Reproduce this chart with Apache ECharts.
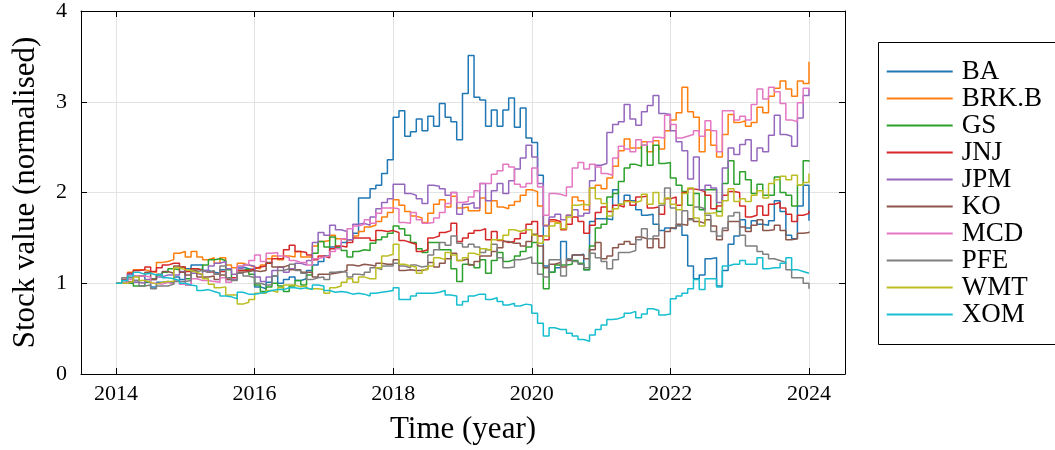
<!DOCTYPE html>
<html>
<head>
<meta charset="utf-8">
<script src="https://cdn.jsdelivr.net/npm/echarts@6/dist/echarts.min.js"></script>
<style>
html,body{margin:0;padding:0;background:#ffffff;}
#chart{width:1055px;height:450px;}
</style>
</head>
<body>
<div id="chart"></div>
<script>
// Monthly normalised values, Jan 2014 ... Jan 2024 (121 points)
const startYear = 2014;
const seriesNames = ["BA", "BRK.B", "GS", "JNJ", "JPM", "KO", "MCD", "PFE", "WMT", "XOM"];
const yearTicks = [2014, 2016, 2018, 2020, 2022, 2024];
const valueTicks = [0, 1, 2, 3, 4];

const BA = [
 1.00,1.03,1.00,1.03,1.08,1.01,0.96,1.01,1.02,1.00,1.07,1.04,
 1.16,1.20,1.20,1.14,1.12,1.11,1.15,1.04,1.04,1.18,1.16,1.15,
 0.96,0.94,1.01,1.08,1.00,1.04,1.07,1.03,1.05,1.14,1.20,1.24,
 1.30,1.40,1.40,1.45,1.48,1.55,1.94,1.94,2.04,2.08,2.21,2.36,
 2.83,2.90,2.62,2.67,2.81,2.68,2.84,2.73,2.98,2.83,2.78,2.58,
 3.09,3.51,3.05,3.02,2.73,2.91,2.73,2.91,3.04,2.72,2.93,2.60,
 2.55,2.19,1.19,1.12,1.17,1.46,1.26,1.31,1.32,1.15,1.68,1.71,
 1.71,1.70,2.03,1.87,1.97,1.91,1.81,1.75,1.76,1.65,1.58,1.61,
 1.60,1.64,1.53,1.19,1.05,1.09,1.27,1.28,0.97,1.14,1.43,1.52,
 1.70,1.61,1.69,1.65,1.64,1.69,1.91,1.79,1.53,1.49,1.85,2.08,
 1.69];
const BRKB = [
 1.00,1.04,1.12,1.15,1.15,1.13,1.12,1.23,1.24,1.26,1.33,1.35,
 1.29,1.35,1.29,1.26,1.28,1.22,1.28,1.20,1.17,1.22,1.20,1.18,
 1.16,1.20,1.27,1.30,1.26,1.30,1.29,1.35,1.29,1.29,1.41,1.46,
 1.47,1.53,1.49,1.48,1.48,1.52,1.57,1.62,1.64,1.68,1.73,1.78,
 1.92,1.86,1.79,1.74,1.72,1.67,1.77,1.87,1.92,1.84,1.96,1.83,
 1.84,1.80,1.80,1.94,1.77,1.91,1.84,1.82,1.86,1.90,1.97,2.03,
 2.01,1.85,1.64,1.68,1.66,1.60,1.75,1.95,1.91,1.81,2.05,2.08,
 2.04,2.16,2.29,2.46,2.59,2.49,2.49,2.56,2.45,2.57,2.48,2.68,
 2.80,2.88,3.16,2.89,2.83,2.45,2.69,2.52,2.39,2.64,2.86,2.77,
 2.79,2.73,2.77,2.94,2.88,3.06,3.15,3.23,3.14,3.06,3.23,3.20,
 3.44];
const GS = [
 1.00,1.01,1.00,0.97,0.97,1.02,1.05,1.09,1.12,1.16,1.15,1.18,
 1.05,1.16,1.15,1.20,1.26,1.27,1.25,1.15,1.06,1.14,1.16,1.10,
 0.98,0.91,0.96,1.00,0.97,0.91,0.97,1.03,0.98,1.09,1.33,1.46,
 1.40,1.51,1.40,1.36,1.29,1.35,1.37,1.36,1.44,1.48,1.51,1.55,
 1.63,1.60,1.53,1.45,1.38,1.34,1.45,1.45,1.37,1.37,1.16,1.02,
 1.21,1.20,1.17,1.26,1.11,1.25,1.34,1.24,1.26,1.30,1.35,1.40,
 1.45,1.22,0.94,1.12,1.20,1.20,1.21,1.25,1.22,1.15,1.41,1.61,
 1.65,1.95,1.99,2.12,2.27,2.31,2.29,2.52,2.30,2.52,2.32,2.33,
 2.16,2.08,2.01,1.86,1.99,1.81,2.03,2.03,1.79,2.10,2.35,2.09,
 2.23,2.14,1.99,2.09,1.97,1.97,2.17,2.00,1.97,1.85,2.08,2.35,
 2.34];
const JNJ = [
 1.00,1.04,1.11,1.14,1.15,1.18,1.13,1.17,1.20,1.22,1.22,1.18,
 1.13,1.16,1.14,1.12,1.13,1.10,1.13,1.06,1.06,1.14,1.14,1.16,
 1.18,1.19,1.22,1.27,1.27,1.37,1.42,1.35,1.34,1.31,1.26,1.30,
 1.28,1.38,1.41,1.40,1.45,1.50,1.50,1.50,1.47,1.58,1.57,1.58,
 1.56,1.47,1.45,1.43,1.35,1.37,1.50,1.52,1.56,1.58,1.66,1.46,
 1.50,1.55,1.58,1.60,1.48,1.57,1.47,1.45,1.46,1.49,1.55,1.65,
 1.68,1.52,1.48,1.70,1.68,1.59,1.65,1.73,1.68,1.55,1.64,1.78,
 1.84,1.79,1.86,1.84,1.91,1.86,1.95,1.96,1.83,1.84,1.76,1.93,
 1.95,1.86,2.00,2.04,2.03,2.01,1.97,1.82,1.85,1.97,2.01,2.00,
 1.85,1.73,1.75,1.85,1.75,1.87,1.89,1.83,1.76,1.68,1.75,1.77,
 1.80];
const JPM = [
 1.00,1.03,1.10,1.01,1.00,1.04,1.04,1.07,1.09,1.09,1.09,1.13,
 0.98,1.11,1.09,1.14,1.19,1.22,1.24,1.16,1.10,1.16,1.20,1.19,
 1.07,1.02,1.07,1.14,1.18,1.12,1.16,1.22,1.20,1.25,1.45,1.56,
 1.53,1.64,1.59,1.57,1.48,1.65,1.66,1.64,1.73,1.82,1.89,1.93,
 2.09,2.09,1.99,1.97,1.93,1.88,2.08,2.07,2.04,1.97,2.00,1.76,
 1.87,1.89,1.83,2.10,1.91,2.02,2.10,1.99,2.13,2.26,2.38,2.52,
 2.39,2.10,1.63,1.73,1.76,1.70,1.75,1.81,1.74,1.77,2.13,2.30,
 2.32,2.66,2.75,2.78,2.97,2.81,2.74,2.89,2.96,3.07,2.87,2.86,
 2.68,2.56,2.46,2.15,2.39,2.03,2.08,2.05,1.89,2.27,2.49,2.42,
 2.53,2.58,2.35,2.49,2.45,2.63,2.85,2.64,2.62,2.51,2.82,3.07,
 3.14];
const KO = [
 1.00,1.01,1.02,1.08,1.08,1.12,1.04,1.10,1.13,1.11,1.19,1.12,
 1.09,1.14,1.07,1.07,1.08,1.04,1.09,1.04,1.06,1.12,1.13,1.14,
 1.13,1.14,1.23,1.18,1.18,1.20,1.15,1.15,1.12,1.12,1.07,1.10,
 1.10,1.11,1.12,1.14,1.20,1.19,1.21,1.20,1.19,1.22,1.21,1.21,
 1.26,1.14,1.15,1.14,1.14,1.16,1.23,1.18,1.22,1.27,1.33,1.25,
 1.27,1.20,1.24,1.30,1.30,1.35,1.39,1.46,1.44,1.44,1.41,1.46,
 1.54,1.41,1.17,1.21,1.23,1.18,1.25,1.31,1.31,1.27,1.37,1.45,
 1.27,1.30,1.39,1.43,1.46,1.43,1.51,1.49,1.39,1.49,1.39,1.57,
 1.61,1.65,1.64,1.71,1.68,1.66,1.70,1.63,1.48,1.58,1.68,1.68,
 1.62,1.57,1.64,1.70,1.58,1.59,1.64,1.58,1.48,1.49,1.55,1.56,
 1.57];
const MCD = [
 1.00,1.01,1.04,1.08,1.08,1.07,1.00,0.99,1.01,0.99,1.03,0.99,
 0.98,1.05,1.03,1.03,1.02,1.01,1.06,1.01,1.05,1.19,1.21,1.25,
 1.31,1.24,1.33,1.34,1.30,1.28,1.25,1.23,1.23,1.20,1.27,1.29,
 1.30,1.35,1.38,1.49,1.60,1.63,1.65,1.70,1.66,1.77,1.83,1.83,
 1.82,1.67,1.66,1.78,1.70,1.66,1.67,1.72,1.78,1.88,2.00,1.89,
 1.90,1.95,2.02,2.10,2.10,2.20,2.24,2.31,2.28,2.09,2.06,2.10,
 2.27,2.06,1.75,1.99,1.98,1.96,2.06,2.27,2.33,2.26,2.31,2.28,
 2.21,2.19,2.38,2.51,2.48,2.45,2.58,2.52,2.56,2.61,2.60,2.85,
 2.75,2.60,2.62,2.64,2.68,2.62,2.79,2.68,2.45,2.90,2.90,2.80,
 2.84,2.80,2.97,3.14,3.03,3.16,3.11,2.98,2.80,2.78,2.99,3.15,
 3.11];
const PFE = [
 1.00,1.06,1.06,1.03,0.97,0.98,0.94,0.97,0.97,0.99,1.02,1.02,
 1.03,1.13,1.14,1.12,1.14,1.10,1.19,1.06,1.03,1.11,1.08,1.06,
 1.00,0.98,0.98,1.08,1.14,1.16,1.21,1.14,1.11,1.04,1.06,1.07,
 1.04,1.12,1.13,1.12,1.07,1.10,1.09,1.12,1.17,1.15,1.19,1.19,
 1.22,1.19,1.17,1.20,1.18,1.19,1.31,1.37,1.45,1.42,1.52,1.44,
 1.40,1.43,1.40,1.34,1.37,1.43,1.28,1.17,1.18,1.26,1.27,1.29,
 1.22,1.10,1.07,1.26,1.26,1.08,1.27,1.24,1.21,1.17,1.33,1.28,
 1.24,1.16,1.26,1.34,1.34,1.36,1.48,1.60,1.49,1.52,1.86,2.05,
 1.83,1.63,1.80,1.70,1.84,1.82,1.75,1.57,1.52,1.61,1.74,1.78,
 1.53,1.41,1.41,1.35,1.32,1.27,1.25,1.23,1.15,1.06,1.06,1.00,
 0.94];
const WMT = [
 1.00,1.00,1.02,1.07,1.03,1.01,0.99,1.01,1.02,1.02,1.17,1.15,
 1.14,1.12,1.10,1.05,0.99,0.95,0.96,0.87,0.87,0.77,0.79,0.82,
 0.89,0.89,0.92,0.90,0.95,0.98,0.98,0.96,0.97,0.94,0.94,0.93,
 0.89,0.95,0.97,1.01,1.05,1.01,1.07,1.05,1.05,1.17,1.30,1.32,
 1.43,1.21,1.19,1.18,1.11,1.15,1.19,1.28,1.26,1.34,1.31,1.25,
 1.28,1.33,1.31,1.38,1.36,1.48,1.48,1.53,1.59,1.57,1.59,1.59,
 1.53,1.44,1.52,1.63,1.66,1.60,1.73,1.86,1.87,1.86,2.05,1.93,
 1.88,1.74,1.82,1.87,1.90,1.89,1.91,1.98,1.87,2.00,1.88,1.94,
 1.87,1.81,1.99,2.05,1.72,1.63,1.77,1.78,1.74,1.91,2.04,1.90,
 1.93,1.90,1.97,2.02,1.94,2.10,2.14,2.18,2.14,2.19,2.08,2.11,
 2.21];
const XOM = [
 1.00,1.03,1.08,1.12,1.10,1.11,1.09,1.10,1.06,1.05,1.03,1.00,
 0.98,0.97,0.92,0.93,0.91,0.89,0.86,0.85,0.83,0.90,0.88,0.88,
 0.89,0.90,0.92,0.93,0.93,0.95,0.95,0.94,0.95,0.93,0.98,0.97,
 0.92,0.90,0.91,0.90,0.88,0.89,0.88,0.86,0.89,0.90,0.91,0.92,
 0.95,0.82,0.82,0.86,0.89,0.89,0.89,0.90,0.92,0.87,0.86,0.76,
 0.80,0.86,0.88,0.88,0.82,0.84,0.80,0.76,0.78,0.75,0.77,0.76,
 0.67,0.56,0.42,0.51,0.49,0.49,0.45,0.42,0.38,0.36,0.43,0.49,
 0.54,0.60,0.61,0.63,0.67,0.69,0.62,0.66,0.72,0.70,0.65,0.66,
 0.83,0.86,0.89,0.94,1.04,0.93,1.05,1.05,0.96,1.19,1.21,1.21,
 1.25,1.21,1.21,1.28,1.16,1.17,1.17,1.22,1.28,1.15,1.13,1.11,
 1.11];

const seriesValues = [BA, BRKB, GS, JNJ, JPM, KO, MCD, PFE, WMT, XOM];
const palette = ["#1f77b4", "#ff7f0e", "#2ca02c", "#d62728", "#9467bd",
                 "#8c564b", "#e377c2", "#7f7f7f", "#bcbd22", "#17becf"];

const FONT = "'Liberation Serif', 'DejaVu Serif', serif";

const series = seriesNames.map((name, k) => ({
  name: name,
  type: 'line',
  step: 'end',
  showSymbol: false,
  symbol: 'none',
  silent: true,
  xAxisIndex: 0,
  yAxisIndex: 0,
  lineStyle: { width: 1.5, color: palette[k] },
  itemStyle: { color: palette[k] },
  data: seriesValues[k].map((v, i) => [startYear + i / 12, v])
}));

const chart = echarts.init(document.getElementById('chart'), null, { renderer: 'canvas' });
const X_MIN = 2013.495, X_MAX = 2024.52;
const tickStyle = { show: true, inside: true, length: 6, lineStyle: { color: '#000', width: 1 } };

chart.setOption({
  animation: false,
  backgroundColor: '#ffffff',
  color: palette,
  grid: { left: 81, top: 11, right: 210, bottom: 75, containLabel: false },
  xAxis: [
    {
      type: 'value', position: 'bottom', min: X_MIN, max: X_MAX,
      name: 'Time (year)', nameLocation: 'middle', nameGap: 40,
      nameTextStyle: { fontFamily: FONT, fontSize: 31, color: '#000' },
      axisLine: { show: true, onZero: false, lineStyle: { color: '#000', width: 1 } },
      axisTick: Object.assign({ customValues: yearTicks }, tickStyle),
      axisLabel: { customValues: yearTicks, formatter: v => String(v), margin: 9,
                   fontFamily: FONT, fontSize: 22, color: '#000' },
      splitLine: { show: true, lineStyle: { color: '#e3e3e3', width: 1 } }
    },
    {
      type: 'value', position: 'top', min: X_MIN, max: X_MAX,
      axisLine: { show: true, onZero: false, lineStyle: { color: '#000', width: 1 } },
      axisTick: Object.assign({ customValues: yearTicks }, tickStyle),
      axisLabel: { show: false },
      splitLine: { show: false }
    }
  ],
  yAxis: [
    {
      type: 'value', position: 'left', min: 0, max: 4, interval: 1,
      name: 'Stock value (normalised)', nameLocation: 'middle', nameGap: 40, nameRotate: 90,
      nameTextStyle: { fontFamily: FONT, fontSize: 31, color: '#000' },
      axisLine: { show: true, onZero: false, lineStyle: { color: '#000', width: 1 } },
      axisTick: Object.assign({ customValues: valueTicks }, tickStyle),
      axisLabel: { customValues: valueTicks, margin: 14, fontFamily: FONT, fontSize: 22, color: '#000' },
      splitLine: { show: true, lineStyle: { color: '#e3e3e3', width: 1 } }
    },
    {
      type: 'value', position: 'right', min: 0, max: 4, interval: 1,
      axisLine: { show: true, onZero: false, lineStyle: { color: '#000', width: 1 } },
      axisTick: Object.assign({ customValues: valueTicks }, tickStyle),
      axisLabel: { show: false },
      splitLine: { show: false }
    }
  ],
  legend: {
    orient: 'vertical',
    left: 876, top: 40,
    padding: [18, 10, 15, 10.7],
    icon: 'rect',
    itemWidth: 66, itemHeight: 2, itemGap: 0,
    data: seriesNames,
    textStyle: { fontFamily: FONT, fontSize: 27, lineHeight: 27, color: '#000', padding: [0, 0, 0, 4] },
    borderWidth: 0,
    selectedMode: false
  },
  graphic: [{
    type: 'rect', left: 876, top: 40, z: 100, silent: true,
    shape: { width: 178, height: 302 },
    style: { fill: 'none', stroke: '#000', lineWidth: 1 }
  }],
  series: series
});
</script>
</body>
</html>
